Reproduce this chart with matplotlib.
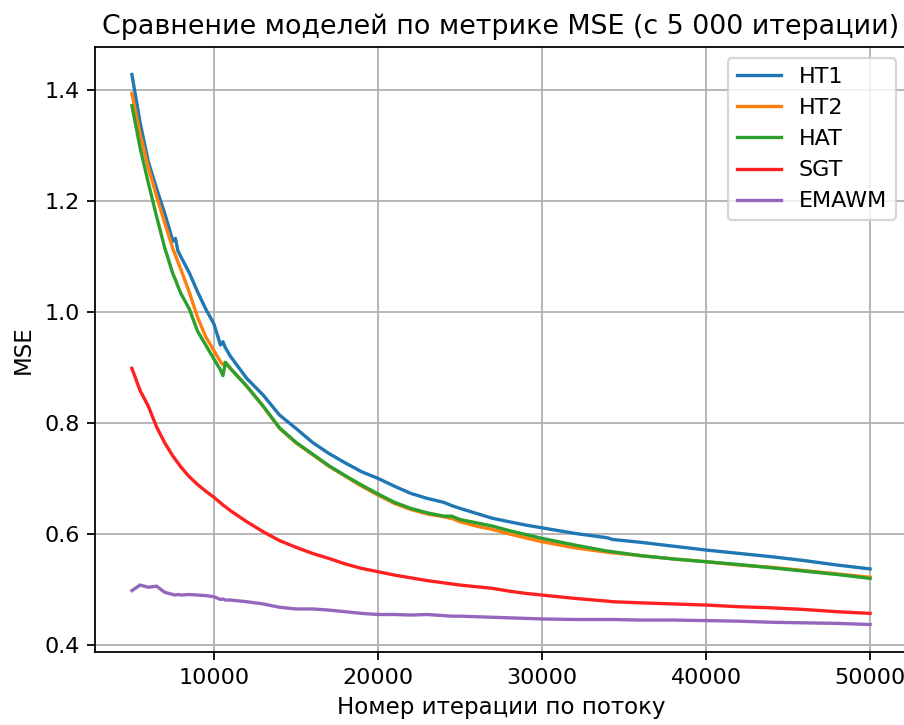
import matplotlib
matplotlib.use("Agg")
import matplotlib.pyplot as plt

# iteration numbers (shared x for all series)
iters = [5000, 5500, 6000, 6500, 7000, 7500, 7650, 7800, 8000, 8500, 9000, 9500,
         10000, 10400, 10550, 10700, 11000, 12000, 13000, 14000, 15000, 16000,
         17000, 18000, 19000, 20000, 21000, 22000, 23000, 24000, 24500, 25000,
         26000, 27000, 28000, 29000, 30000, 32000, 34000, 34300, 36000, 38000,
         40000, 42000, 44000, 46000, 48000, 50000]

ht1 = [1.427, 1.340, 1.270, 1.222, 1.177, 1.127, 1.132, 1.110, 1.098, 1.070, 1.036, 1.005,
       0.978, 0.940, 0.946, 0.935, 0.920, 0.880, 0.850, 0.814, 0.790, 0.765,
       0.745, 0.728, 0.712, 0.700, 0.686, 0.673, 0.664, 0.657, 0.651, 0.646,
       0.637, 0.628, 0.622, 0.616, 0.611, 0.601, 0.593, 0.590, 0.585, 0.578,
       0.571, 0.565, 0.559, 0.552, 0.544, 0.537]

ht2 = [1.393, 1.320, 1.260, 1.208, 1.160, 1.113, 1.102, 1.090, 1.075, 1.035, 0.990, 0.955,
       0.930, 0.910, 0.905, 0.908, 0.898, 0.866, 0.830, 0.790, 0.764, 0.743,
       0.722, 0.704, 0.686, 0.670, 0.655, 0.644, 0.636, 0.631, 0.628, 0.622,
       0.614, 0.608, 0.600, 0.593, 0.586, 0.575, 0.567, 0.566, 0.561, 0.555,
       0.550, 0.544, 0.540, 0.534, 0.528, 0.522]

hat = [1.371, 1.295, 1.232, 1.172, 1.115, 1.068, 1.058, 1.046, 1.032, 1.005, 0.965, 0.940,
       0.915, 0.895, 0.885, 0.909, 0.898, 0.866, 0.830, 0.791, 0.765, 0.744,
       0.723, 0.705, 0.688, 0.672, 0.657, 0.646, 0.638, 0.632, 0.632, 0.626,
       0.620, 0.614, 0.606, 0.599, 0.592, 0.580, 0.569, 0.568, 0.561, 0.555,
       0.550, 0.545, 0.539, 0.533, 0.527, 0.520]

sgt = [0.898, 0.858, 0.830, 0.793, 0.764, 0.740, 0.734, 0.728, 0.720, 0.703, 0.689, 0.677,
       0.666, 0.656, 0.652, 0.649, 0.642, 0.622, 0.604, 0.588, 0.576, 0.565,
       0.556, 0.546, 0.538, 0.532, 0.526, 0.521, 0.516, 0.512, 0.510, 0.508,
       0.505, 0.502, 0.497, 0.493, 0.490, 0.484, 0.479, 0.478, 0.476, 0.474,
       0.472, 0.469, 0.467, 0.464, 0.460, 0.457]

emawm = [0.498, 0.508, 0.504, 0.506, 0.495, 0.491, 0.490, 0.491, 0.490, 0.491, 0.490, 0.489,
         0.487, 0.482, 0.483, 0.481, 0.481, 0.478, 0.474, 0.468, 0.465, 0.465,
         0.463, 0.460, 0.457, 0.455, 0.455, 0.454, 0.455, 0.453, 0.452, 0.452,
         0.451, 0.450, 0.449, 0.448, 0.447, 0.446, 0.446, 0.446, 0.445, 0.445,
         0.444, 0.443, 0.441, 0.440, 0.439, 0.437]

series = {"HT1": ht1, "HT2": ht2, "HAT": hat, "SGT": sgt, "EMAWM": emawm}
colors = {"HT1": "#1f77b4", "HT2": "#ff7f0e", "HAT": "#2ca02c",
          "SGT": "#ff2020", "EMAWM": "#9467bd"}

fig = plt.figure(figsize=(904 / 160, 725 / 160), dpi=160)
# axes run slightly past the right edge, like the cropped original
ax = fig.add_axes([95 / 904, 73 / 725, 812 / 904, 605 / 725])

for name, vals in series.items():
    ax.plot(iters, vals, label=name, color=colors[name])

ax.set_title("Сравнение моделей по метрике MSE (с 5 000 итерации)", fontsize=12.1)
ax.set_xlabel("Номер итерации по потоку", fontsize=10.3)
ax.set_ylabel("MSE", fontsize=10.3)
ax.set_yticks([0.4, 0.6, 0.8, 1.0, 1.2, 1.4])
ax.set_xticks([10000, 20000, 30000, 40000, 50000])
ax.tick_params(labelsize=10)
ax.grid(True)
ax.legend(loc="upper right")

fig.savefig("out.png", dpi=160)
